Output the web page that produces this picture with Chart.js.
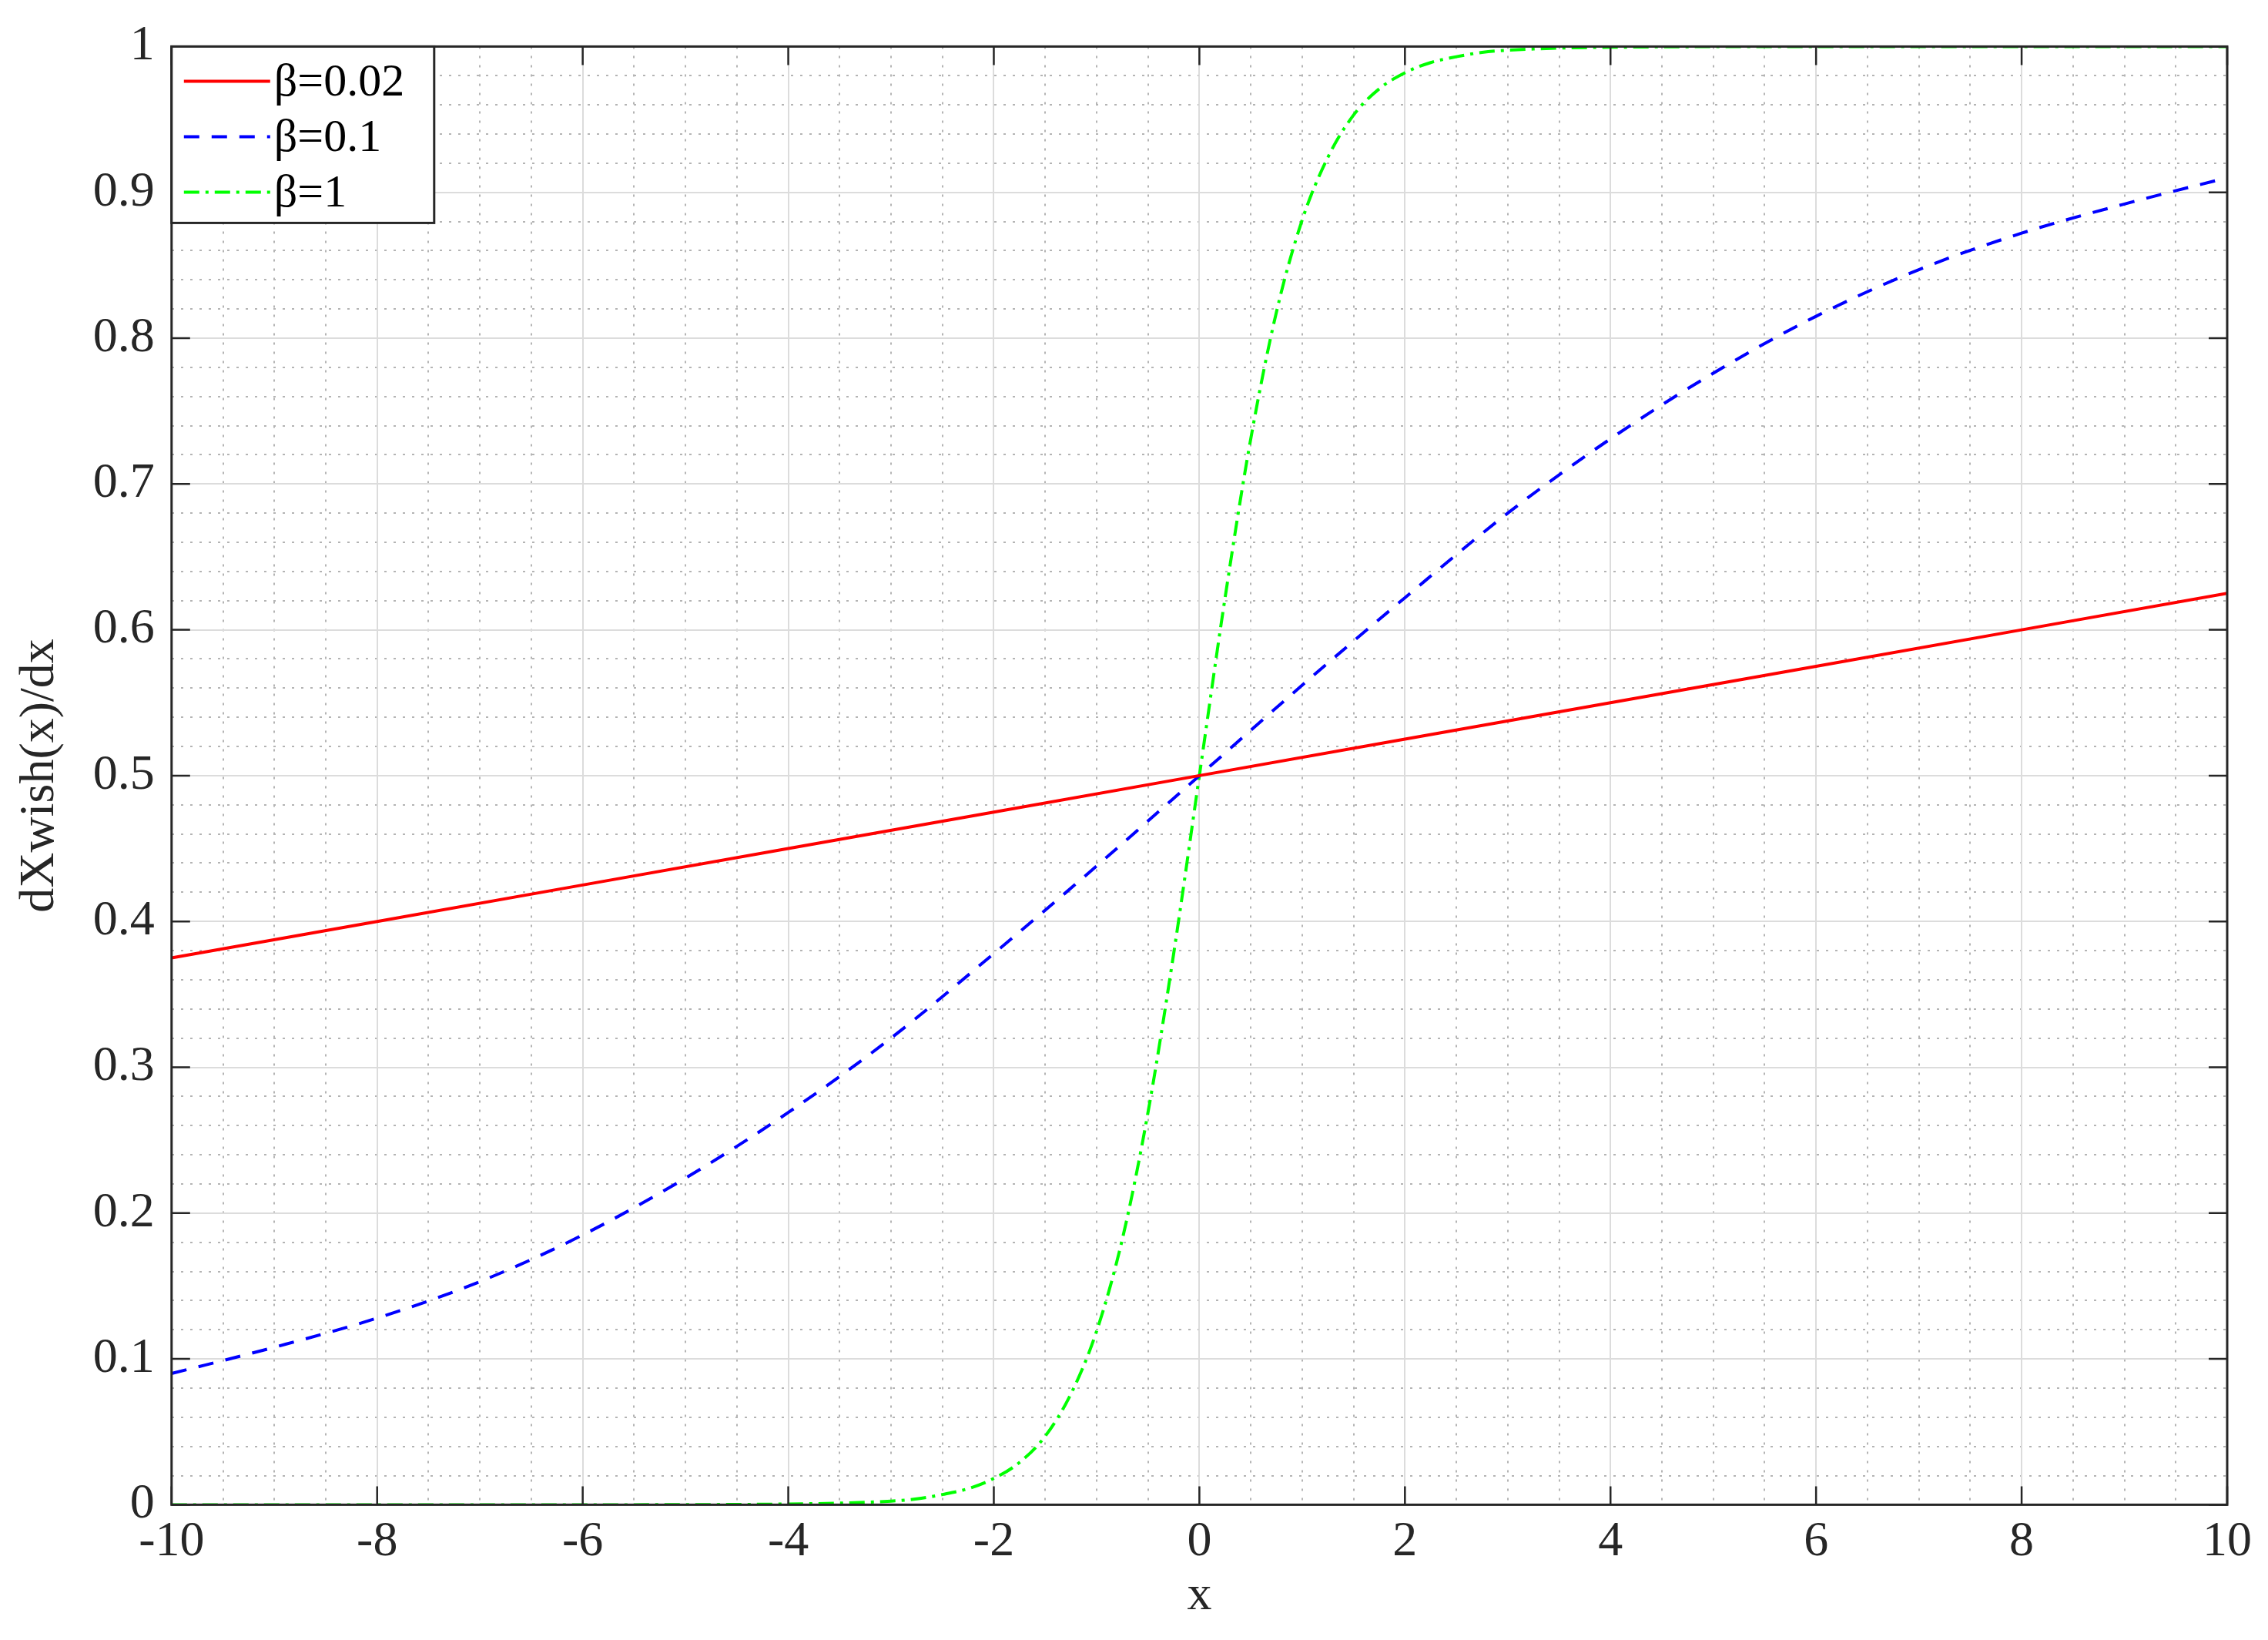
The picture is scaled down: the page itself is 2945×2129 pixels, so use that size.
<!DOCTYPE html>
<html><head><meta charset="utf-8">
<script src="https://cdn.jsdelivr.net/npm/chart.js@4/dist/chart.umd.min.js"></script>
<style>html,body{margin:0;padding:0;background:#fff}#wrap{width:2945px;height:2129px}</style>
</head><body><div id="wrap"><canvas id="c" width="2945" height="2129"></canvas></div>
<script>
const xRed = [-10,-8,-6,-4,-2,0,2,4,6,8,10];
const yRed = [0.375,0.4,0.425,0.45,0.475,0.5,0.525,0.55,0.575,0.6,0.625];
const xBlue = [-10,-9,-8,-7,-6,-5,-4,-3,-2,-1,0,1,2,3,4,5,6,7,8,9,10];
const yBlue = [0.09,0.108,0.128,0.153,0.185,0.224,0.269,0.32,0.378,0.438,0.5,0.562,0.622,0.68,0.731,0.776,0.815,0.847,0.872,0.892,0.91];
const xGreen = [-10,-8,-6,-4,-3,-2.75,-2.5,-2.25,-2,-1.75,-1.5,-1.25,-1,-0.75,-0.5,-0.25,0,0.25,0.5,0.75,1,1.25,1.5,1.75,2,2.25,2.5,2.75,3,4,6,8,10];
const yGreen = [0,0,0,0.0005,0.0025,0.004,0.007,0.011,0.018,0.029,0.047,0.076,0.119,0.182,0.269,0.378,0.5,0.622,0.731,0.818,0.881,0.924,0.953,0.971,0.982,0.989,0.993,0.996,0.9975,0.9995,1,1,1];
const labels = ['β=0.02','β=0.1','β=1'];
const FONT = 'Liberation Serif';
const pts=(xs,ys)=>xs.map((x,i)=>({x:x,y:ys[i]}));

const frame = {
  id:'frame',
  afterDatasetsDraw(ch){
    const {ctx,chartArea:a}=ch;
    ctx.save();
    ctx.strokeStyle='#262626';ctx.lineWidth=3;
    ctx.strokeRect(a.left,a.top,a.right-a.left,a.bottom-a.top);
    const xs=ch.scales.x, ys=ch.scales.y;
    ctx.lineWidth=2.5;
    for(let v=-10;v<=10;v+=2){const p=xs.getPixelForValue(v);
      ctx.beginPath();ctx.moveTo(p,a.bottom);ctx.lineTo(p,a.bottom-24);ctx.moveTo(p,a.top);ctx.lineTo(p,a.top+24);ctx.stroke();}
    for(let i=0;i<=10;i++){const p=ys.getPixelForValue(i/10);
      ctx.beginPath();ctx.moveTo(a.left,p);ctx.lineTo(a.left+24,p);ctx.moveTo(a.right,p);ctx.lineTo(a.right-24,p);ctx.stroke();}
    const L=a.left, T=a.top, W=341, H=229;
    ctx.fillStyle='#fff';ctx.fillRect(L,T,W,H);
    ctx.strokeStyle='#262626';ctx.lineWidth=3;ctx.strokeRect(L,T,W,H);
    const ds=ch.data.datasets;
    ctx.font='60px "'+FONT+'"';ctx.textBaseline='middle';
    for(let i=0;i<3;i++){
      const y=T+45+i*72;
      ctx.strokeStyle=ds[i].borderColor;ctx.lineWidth=4;ctx.setLineDash(ds[i].borderDash||[]);
      ctx.beginPath();ctx.moveTo(L+16,y);ctx.lineTo(L+128,y);ctx.stroke();
      ctx.setLineDash([]);ctx.fillStyle='#000';ctx.fillText(labels[i],L+133,y+3);
    }
    ctx.restore();
  }
};

new Chart(document.getElementById('c'),{
  type:'scatter',
  data:{datasets:[
    {label:labels[0],data:pts(xRed,yRed),showLine:true,borderColor:'#ff0000',borderWidth:4,pointRadius:0,tension:0},
    {label:labels[1],data:pts(xBlue,yBlue),showLine:true,borderColor:'#0000ff',borderWidth:4,borderDash:[20,16],pointRadius:0,cubicInterpolationMode:'monotone'},
    {label:labels[2],data:pts(xGreen,yGreen),showLine:true,borderColor:'#00ff00',borderWidth:4,borderDash:[20,8,4,8],pointRadius:0,cubicInterpolationMode:'monotone'}
  ]},
  options:{
    responsive:false,animation:false,devicePixelRatio:1,
    layout:{padding:{top:12,right:53,left:14,bottom:18}},
    plugins:{legend:{display:false},tooltip:{enabled:false}},
    scales:{
      x2:{type:'linear',min:-10,max:10,position:'bottom',ticks:{display:false,stepSize:0.5},
        grid:{color:'#b4b4b4',lineWidth:2,drawTicks:false},border:{display:false,dash:[3,9]}},
      y2:{type:'linear',min:0,max:1,position:'left',ticks:{display:false,stepSize:0.02},
        grid:{color:'#b4b4b4',lineWidth:2,drawTicks:false},border:{display:false,dash:[3,9]}},
      x:{type:'linear',min:-10,max:10,position:'bottom',
        ticks:{stepSize:2,color:'#262626',font:{family:FONT,size:64},padding:10},
        grid:{color:'#dcdcdc',lineWidth:2,drawTicks:false},border:{display:false},
        title:{display:true,text:'x',color:'#262626',font:{family:FONT,size:64},padding:{top:-16,bottom:0}}},
      y:{type:'linear',min:0,max:1,position:'left',
        ticks:{stepSize:0.1,color:'#262626',font:{family:FONT,size:64},padding:22,callback:v=>String(Math.round(v*10)/10)},
        grid:{color:'#dcdcdc',lineWidth:2,drawTicks:false},border:{display:false},
        title:{display:true,text:'dXwish(x)/dx',color:'#262626',font:{family:FONT,size:64},padding:{top:0,bottom:8}}}
    }
  },
  plugins:[frame]
});
</script></body></html>
